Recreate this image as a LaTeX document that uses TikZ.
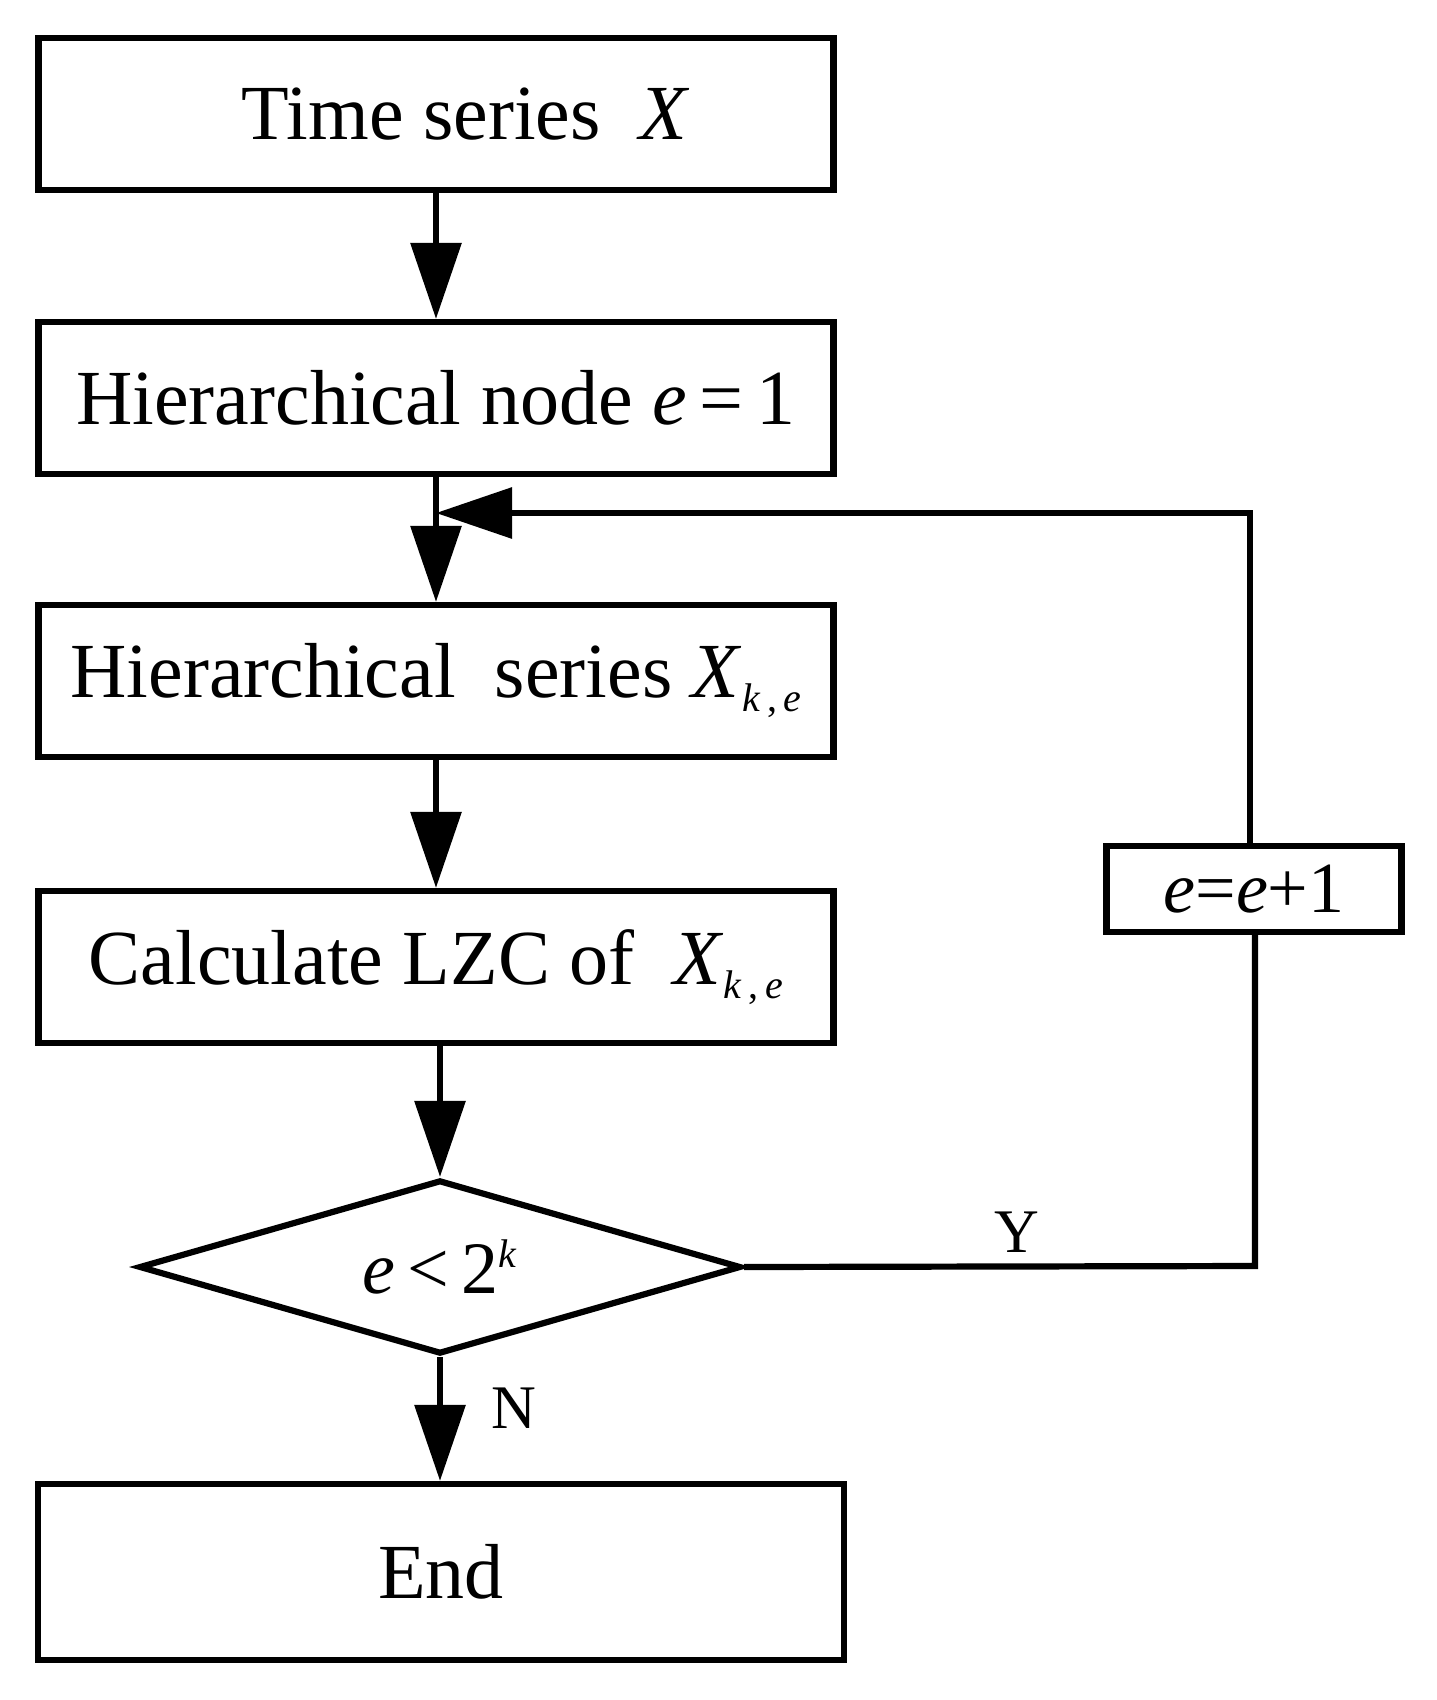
\documentclass[tikz,border=0pt]{standalone}
\usepackage{fontspec}
\setmainfont{Liberation Serif}
\usetikzlibrary{arrows.meta,shapes.geometric}
\newcommand{\sub}[1]{\raisebox{-14pt}{\fontsize{40}{40}\selectfont #1}}
\begin{document}
\begin{tikzpicture}[x=1pt,y=-1pt,
  line width=6.2pt,
  box/.style={draw,rectangle,minimum width=795pt,minimum height=152pt,inner sep=0pt,
    font=\fontsize{78}{90}\selectfont},
  small/.style={draw,rectangle,minimum width=295pt,minimum height=86pt,inner sep=0pt,
    font=\fontsize{72}{80}\selectfont},
  dec/.style={draw,diamond,aspect=3.46,minimum width=602pt,minimum height=174pt,inner sep=0pt,
    font=\fontsize{74}{80}\selectfont},
  lbl/.style={font=\fontsize{62}{70}\selectfont},
  arr/.style={-{Triangle[length=76pt,width=50pt]},line join=miter}]
\useasboundingbox (0,0) rectangle (1437,1700);
\node[box] (ts) at (436,114) {\hspace{60pt}Time series\ \ \textit{X}};
\node[box] (hn) at (436,398) {Hierarchical node \textit{e}\,=\,1};
\node[box] (hs) at (436,681) {Hierarchical\ \ series \textit{X}\sub{\textit{k}\,,\,\textit{e}}};
\node[box] (lz) at (436,967) {Calculate LZC of\ \ \textit{X}\sub{\textit{k}\,,\,\textit{e}}};
\node[dec] (dc) at (440,1267) {\textit{e}\,<\,2\raisebox{26pt}{\fontsize{40}{40}\selectfont\textit{k}}};
\node[box,minimum width=806pt,minimum height=176pt] (en) at (441,1572) {End};
\node[small] (inc) at (1254,889) {\textit{e}=\textit{e}+1};
\coordinate (j) at (436,513);
\coordinate (c1) at (1255,1266);
\coordinate (c2) at (1250,513);
\draw[arr] (ts) -- (hn);
\draw (hn) -- (j);
\draw[arr] (j) -- (hs);
\draw[arr] (hs) -- (lz);
\draw[arr] (lz.south -| dc.north) -- (dc.north);
\draw[arr] (dc.south) -- (dc.south |- en.north);
\draw (dc.east) -- (c1) -- (inc.south -| c1);
\draw[arr] (inc.north -| c2) -- (c2) -- (j);
\node[lbl] (y) at (1017,1232) {Y};
\node[lbl] (n) at (514,1408) {N};
\end{tikzpicture}
\end{document}
